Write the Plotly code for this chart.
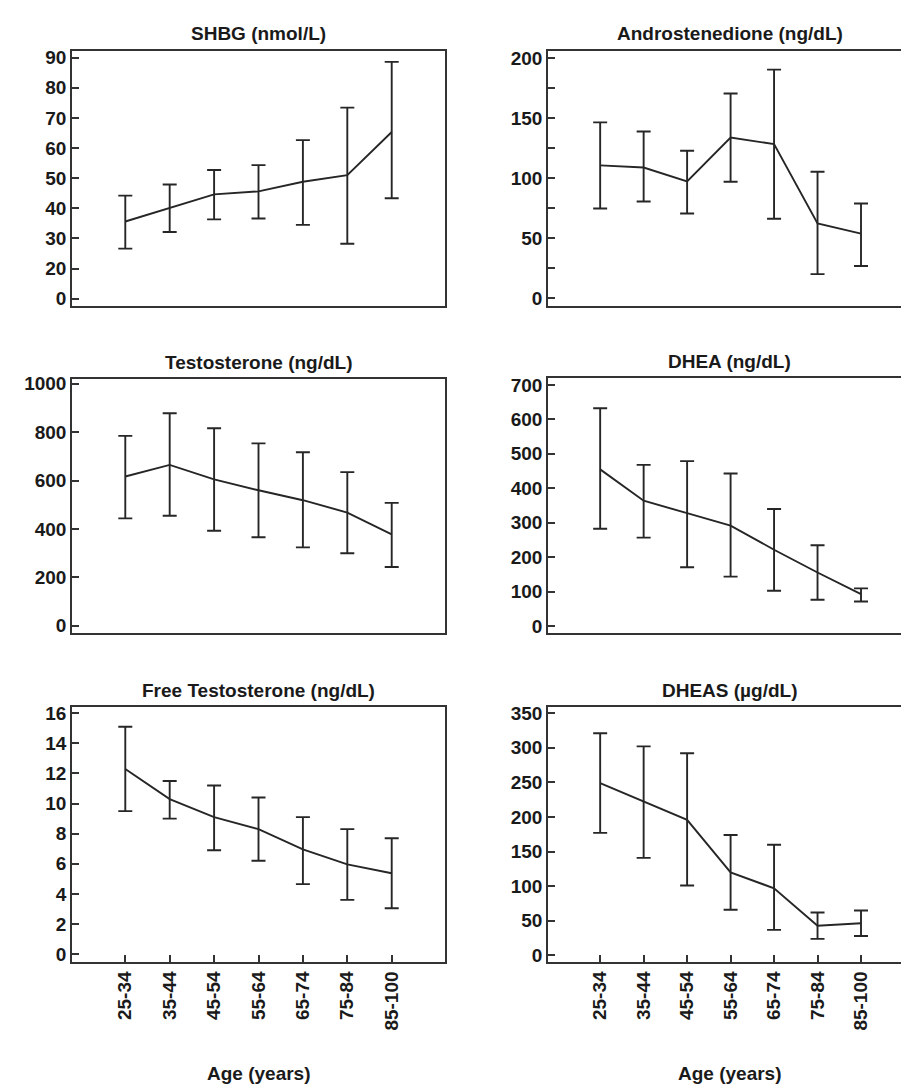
import plotly.graph_objects as go

age_groups = ["25-34", "35-44", "45-54", "55-64", "65-74", "75-84", "85-100"]

shbg_mean = [35.6, 40.2, 44.6, 45.6, 48.8, 51.0, 65.3]
shbg_upper = [44.2, 47.9, 52.7, 54.3, 62.6, 73.4, 88.6]
shbg_lower = [26.6, 32.1, 36.3, 36.6, 34.5, 28.2, 43.3]
shbg_tick_vals = [10, 20, 30, 40, 50, 60, 70, 80, 90]
shbg_tick_text = ["0", "20", "30", "40", "50", "60", "70", "80", "90"]

andro_mean = [110.8, 109, 97.5, 134, 128.5, 62.4, 53.9]
andro_upper = [146.7, 139, 123, 170.7, 190.6, 105.5, 79]
andro_lower = [74.9, 80.7, 70.7, 97.2, 66.3, 20.2, 27]

testo_mean = [617, 665, 605, 560, 519, 468, 378]
testo_upper = [785, 878, 816, 754, 717, 635, 508]
testo_lower = [444, 455, 393, 366, 324, 300, 243]

dhea_mean = [455, 364, 328, 292, 222, 156, 93]
dhea_upper = [632, 468, 479, 443, 340, 235, 110]
dhea_lower = [283, 257, 171, 144, 103, 77, 72]

freet_mean = [12.3, 10.3, 9.1, 8.3, 6.95, 5.96, 5.37]
freet_upper = [15.1, 11.5, 11.2, 10.4, 9.1, 8.3, 7.7]
freet_lower = [9.5, 9.0, 6.9, 6.2, 4.65, 3.6, 3.05]

dheas_mean = [249, 222, 196, 120, 97, 43, 46.5]
dheas_upper = [321, 302, 292, 174, 160, 62, 65]
dheas_lower = [177, 141, 101, 66, 37, 24, 28]

titles = ["SHBG (nmol/L)", "Androstenedione (ng/dL)", "Testosterone (ng/dL)",
          "DHEA (ng/dL)", "Free Testosterone (ng/dL)", "DHEAS (µg/dL)"]
x_title = "Age (years)"

W, H = 909, 1089
FONT = "Liberation Sans, Arial, sans-serif"
INK = "#1a1a1a"
LINE = "#262626"

panels = [
    dict(m=shbg_mean, u=shbg_upper, l=shbg_lower, box=(64, 437, 38, 295),
         yr=[7.7, 92.3], tv=shbg_tick_vals, tt=shbg_tick_text, minor=None),
    dict(m=andro_mean, u=andro_upper, l=andro_lower, box=(540, 903, 38, 295),
         yr=[-6, 206.4], tv=[0, 50, 100, 150, 200], tt=None, minor=25),
    dict(m=testo_mean, u=testo_upper, l=testo_lower, box=(64, 437, 369, 625),
         yr=[-29, 1020], tv=[0, 200, 400, 600, 800, 1000], tt=None, minor=None),
    dict(m=dhea_mean, u=dhea_upper, l=dhea_lower, box=(540, 903, 368, 625),
         yr=[-19, 720], tv=[0, 100, 200, 300, 400, 500, 600, 700], tt=None, minor=None),
    dict(m=freet_mean, u=freet_upper, l=freet_lower, box=(64, 437, 700, 957),
         yr=[-0.53, 16.4], tv=[0, 2, 4, 6, 8, 10, 12, 14, 16], tt=None, minor=None),
    dict(m=dheas_mean, u=dheas_upper, l=dheas_lower, box=(540, 903, 700, 957),
         yr=[-9.6, 358.6], tv=[0, 50, 100, 150, 200, 250, 300, 350], tt=None, minor=None),
]

fig = go.Figure()
layout = dict(width=W, height=H, margin=dict(l=0, r=0, t=0, b=0),
              paper_bgcolor="white", plot_bgcolor="white", showlegend=False,
              annotations=[])

for i, p in enumerate(panels):
    k = i + 1
    xa = "x" if k == 1 else f"x{k}"
    ya = "y" if k == 1 else f"y{k}"
    plus = [u - m for u, m in zip(p["u"], p["m"])]
    minus = [m - l for m, l in zip(p["m"], p["l"])]
    fig.add_trace(go.Scatter(
        x=age_groups, y=p["m"], mode="lines", xaxis=xa, yaxis=ya,
        line=dict(color=LINE, width=1.9),
        error_y=dict(type="data", symmetric=False, array=plus, arrayminus=minus,
                     color=LINE, thickness=1.9, width=7),
        hoverinfo="skip"))
    x0, x1, y0, y1 = p["box"]
    bottom_row = i >= 4
    right = (i % 2 == 1)
    xr = [-1.2, 7.15] if right else [-1.2, 7.2]
    xkey = "xaxis" if k == 1 else f"xaxis{k}"
    ykey = "yaxis" if k == 1 else f"yaxis{k}"
    layout[xkey] = dict(
        domain=[x0 / W, x1 / W], anchor=ya, type="category", range=xr,
        showline=True, linecolor="#333", linewidth=1.5, mirror=True,
        showgrid=False, zeroline=False,
        ticks="inside" if bottom_row else "", ticklen=7, tickwidth=1.5, tickcolor="#333",
        showticklabels=bottom_row, tickangle=-90,
        tickfont=dict(family=FONT, size=19, color=INK, weight="bold"),
        fixedrange=True)
    ydict = dict(
        domain=[1 - y1 / H, 1 - y0 / H], anchor=xa, range=p["yr"],
        showline=True, linecolor="#333", linewidth=1.5, mirror=True,
        showgrid=False, zeroline=False,
        tickmode="array", tickvals=p["tv"],
        ticks="inside", ticklen=7, tickwidth=1.5, tickcolor="#333",
        tickfont=dict(family=FONT, size=19, color=INK, weight="bold"),
        fixedrange=True)
    if p["tt"]:
        ydict["ticktext"] = p["tt"]
    if p["minor"]:
        ydict["minor"] = dict(dtick=p["minor"], ticks="inside", ticklen=7,
                              tickwidth=1.5, tickcolor="#333")
    layout[ykey] = ydict
    layout["annotations"].append(dict(
        text=titles[i], xref="paper", yref="paper",
        x=(x0 + x1) / 2 / W, y=1 - (y0 - 17) / H, xanchor="center", yanchor="middle",
        showarrow=False, font=dict(family=FONT, size=19, color=INK, weight="bold")))
    if bottom_row:
        layout["annotations"].append(dict(
            text=x_title, xref="paper", yref="paper",
            x=(x0 + x1) / 2 / W, y=1 - 1069 / H, xanchor="center", yanchor="middle",
            showarrow=False, font=dict(family=FONT, size=19, color=INK, weight="bold")))

fig.update_layout(**layout)
fig.write_html("out.html")
